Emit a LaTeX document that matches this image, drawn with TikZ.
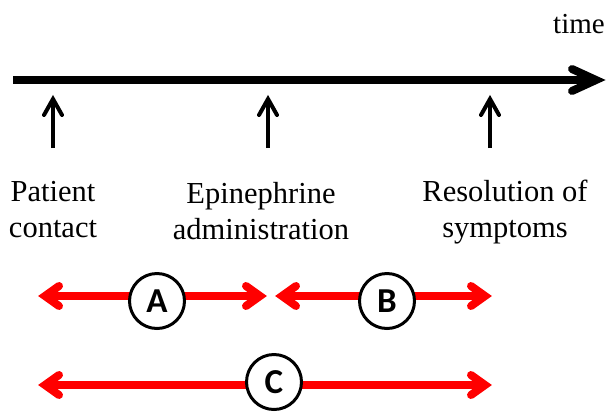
\documentclass[tikz,border=0pt]{standalone}
\usepackage{fontspec}
\setmainfont{Liberation Serif}
\newfontfamily\circfont{Carlito}
\usetikzlibrary{calc}
\begin{document}
\begin{tikzpicture}[x=1pt,y=-1pt,
  timeline/.style={line width=8pt},
  headline/.style={line width=8pt, line cap=round, line join=miter},
  marker/.style={line width=4pt},
  markhead/.style={line width=4pt, line cap=round, line join=miter},
  span/.style={draw=red, line width=8pt},
  spanhead/.style={draw=red, line width=8pt, line cap=round, line join=miter},
  lbl/.style={font=\fontsize{30.5}{36}\selectfont, align=center, inner sep=0pt, anchor=base},
  tag/.style={circle, draw=black, line width=3pt, fill=white, minimum size=55pt, inner sep=0pt, font=\circfont\bfseries\fontsize{35}{40}\selectfont}
]
\useasboundingbox (0,0) rectangle (609,413);
% timeline
\coordinate (t0) at (13,80);
\coordinate (t1) at (605,80);
\draw[timeline] (t0) -- ($(t1)+(-9,0)$);
\draw[headline] ($(t1)+(-33,-11)$) -- ($(t1)+(-9,0)$) -- ($(t1)+(-33,11)$);
\node[font=\fontsize{29}{34}\selectfont, anchor=base, inner sep=0pt] (time) at (579,33) {time};
% markers
\foreach \n/\x in {1/53,2/268,3/490}{
  \coordinate (m\n b) at (\x,148);
  \coordinate (m\n t) at (\x,95);
  \draw[marker] (m\n b) -- ($(m\n t)+(0,4)$);
  \draw[markhead] ($(m\n t)+(-9,20)$) -- ($(m\n t)+(0,4)$) -- ($(m\n t)+(9,20)$);
}
% labels
\node[lbl] (l1) at (53,237) {Patient\\contact};
\node[lbl] (l2) at (261,239) {Epinephrine\\administration};
\node[lbl] (l3) at (505,237) {Resolution of\\symptoms};
% spans
\coordinate (a0) at (38,296);  \coordinate (a1) at (267,296);
\coordinate (b0) at (275,296); \coordinate (b1) at (492,296);
\coordinate (c0) at (38,385);  \coordinate (c1) at (492,385);
\foreach \p in {a,b,c}{
  \draw[span] ($(\p0)+(7,0)$) -- ($(\p1)+(-7,0)$);
  \draw[spanhead] ($(\p0)+(21,-10)$) -- ($(\p0)+(7,0)$) -- ($(\p0)+(21,10)$);
  \draw[spanhead] ($(\p1)+(-21,-10)$) -- ($(\p1)+(-7,0)$) -- ($(\p1)+(-21,10)$);
}
\node[tag] (A) at (157,301) {A};
\node[tag] (B) at (387,301) {B};
\node[tag] (C) at (274,382) {C};
\end{tikzpicture}
\end{document}
